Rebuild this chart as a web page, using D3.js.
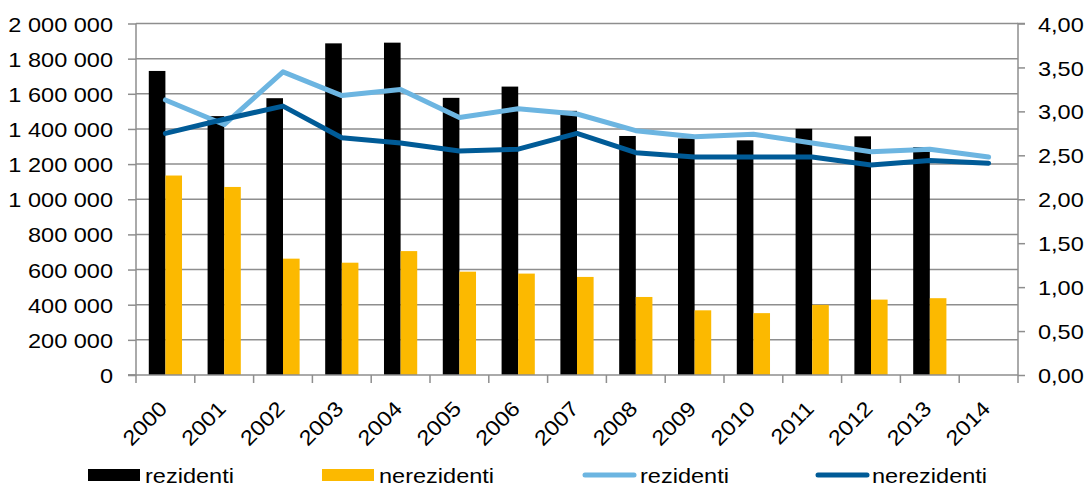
<!DOCTYPE html>
<html>
<head>
<meta charset="utf-8">
<script src="https://cdn.jsdelivr.net/npm/d3@7"></script>
<style>
  html, body { margin: 0; padding: 0; background: #fff; }
  svg { display: block; font-family: "Liberation Sans", Arial, sans-serif; }
</style>
</head>
<body>
<svg id="chart" width="1089" height="487"></svg>
<script>
// ---- data ----
const years = ["2000","2001","2002","2003","2004","2005","2006","2007","2008","2009","2010","2011","2012","2013","2014"];
const barRezidenti   = [1730000,1473000,1575000,1887000,1891000,1577000,1641000,1503000,1360000,1346000,1335000,1401000,1358000,1297000,null];
const barNerezidenti = [1135000,1070000,662000,639000,705000,588000,577000,558000,444000,368000,352000,399000,429000,437000,null];
const lineRezidenti   = [3.13,2.85,3.45,3.18,3.25,2.93,3.03,2.97,2.78,2.71,2.74,2.64,2.54,2.57,2.48];
const lineNerezidenti = [2.75,2.91,3.06,2.70,2.64,2.55,2.57,2.75,2.53,2.48,2.48,2.48,2.39,2.44,2.41];
const leftTicks  = [0,200000,400000,600000,800000,1000000,1200000,1400000,1600000,1800000,2000000];
const rightTicks = [0,0.5,1,1.5,2,2.5,3,3.5,4];
const seriesNames = ["rezidenti","nerezidenti","rezidenti","nerezidenti"];

// ---- styles ----
const colBlack = "#000000", colOrange = "#fcb900", colLight = "#6cb5e1", colDark = "#005b97";
const gridCol = "#8e8e8e";
const FS = 21, STRETCH = 1.12;

const svg = d3.select("#chart");
const pLeft = 136, pRight = 1018, pTop = 23.5, pBottom = 375;

function stretch(sel) {
  sel.each(function () {
    const w = this.getComputedTextLength();
    this.setAttribute("textLength", w * STRETCH);
    this.setAttribute("lengthAdjust", "spacingAndGlyphs");
  });
}

const loc = d3.formatLocale({decimal: ",", thousands: " ", grouping: [3], currency: ["", ""]});
const fmtL = loc.format(",.0f");
const fmtR = loc.format(".2f");

const x = d3.scaleBand().domain(years).range([pLeft, pRight]).padding(0);
const x1 = d3.scaleBand().domain(["r","n"]).range([0, x.bandwidth()]).paddingInner(0).paddingOuter(0.77);
const yL = d3.scaleLinear().domain([0, 2000000]).range([pBottom, pTop]);
const yR = d3.scaleLinear().domain([0, 4]).range([pBottom, pTop]);

// gridlines
svg.append("g").selectAll("line").data(leftTicks.filter(d => d > 0)).join("line")
  .attr("x1", pLeft).attr("x2", pRight)
  .attr("y1", d => yL(d)).attr("y2", d => yL(d))
  .attr("stroke", gridCol).attr("stroke-width", 1.5);

// bars
const barG = svg.append("g");
barG.selectAll("rect.r").data(years.map((y, i) => ({y, v: barRezidenti[i]})).filter(d => d.v != null)).join("rect")
  .attr("class", "r")
  .attr("x", d => x(d.y) + x1("r")).attr("width", x1.bandwidth())
  .attr("y", d => yL(d.v)).attr("height", d => yL(0) - yL(d.v))
  .attr("fill", colBlack);
barG.selectAll("rect.n").data(years.map((y, i) => ({y, v: barNerezidenti[i]})).filter(d => d.v != null)).join("rect")
  .attr("class", "n")
  .attr("x", d => x(d.y) + x1("n")).attr("width", x1.bandwidth())
  .attr("y", d => yL(d.v)).attr("height", d => yL(0) - yL(d.v))
  .attr("fill", colOrange);

// axes
const axL = d3.axisLeft(yL).tickValues(leftTicks).tickFormat(fmtL).tickSize(8).tickPadding(15);
const gL = svg.append("g").attr("transform", `translate(${pLeft},0)`).call(axL);
const axR = d3.axisRight(yR).tickValues(rightTicks).tickFormat(fmtR).tickSize(7).tickPadding(13);
const gR = svg.append("g").attr("transform", `translate(${pRight},0)`).call(axR);
const axB = d3.axisBottom(x).tickSize(8).tickFormat("");
const gB = svg.append("g").attr("transform", `translate(0,${pBottom})`).call(axB);
gB.selectAll(".tick").remove();
gB.selectAll("line.bt").data(years.concat(["end"])).join("line")
  .attr("class", "bt")
  .attr("x1", (d, i) => pLeft + i * x.step()).attr("x2", (d, i) => pLeft + i * x.step())
  .attr("y1", 0).attr("y2", 8).attr("stroke", gridCol).attr("stroke-width", 1.5);

[gL, gR, gB].forEach(g => {
  g.selectAll(".domain").attr("stroke", gridCol).attr("stroke-width", 1.5);
  g.selectAll(".tick line").attr("stroke", gridCol).attr("stroke-width", 1.5);
  g.selectAll("text").attr("font-family", '"Liberation Sans", Arial, sans-serif').attr("font-size", FS).attr("fill", "#000").attr("dy", "0.36em");
  stretch(g.selectAll("text"));
});
gL.select(".domain").attr("d", `M-8,${pBottom}H0V${pTop}`);
gR.select(".domain").attr("d", `M7,${pTop}H0V${pBottom}`);
gB.select(".domain").attr("d", `M${pLeft - 8},0H${pRight}`);

// year labels
const yl = svg.append("g").selectAll("text").data(years).join("text")
  .attr("transform", d => `translate(${x(d) + x.bandwidth() / 2 + 3},${pBottom + 35}) rotate(-45)`)
  .attr("text-anchor", "end")
  .attr("font-size", FS).attr("fill", "#000")
  .text(d => d);
stretch(yl);

// lines
const lineGen = d3.line().x((d, i) => x(years[i]) + x.bandwidth() / 2).y(d => yR(d));
svg.append("path").datum(lineRezidenti).attr("d", lineGen)
  .attr("fill", "none").attr("stroke", colLight).attr("stroke-width", 5).attr("stroke-linejoin", "round").attr("stroke-linecap", "round");
svg.append("path").datum(lineNerezidenti).attr("d", lineGen)
  .attr("fill", "none").attr("stroke", colDark).attr("stroke-width", 5).attr("stroke-linejoin", "round").attr("stroke-linecap", "round");

// legend
const legend = [
  {type: "rect", color: colBlack, x0: 88, x1: 140, tx: 145},
  {type: "rect", color: colOrange, x0: 322, x1: 374, tx: 379},
  {type: "line", color: colLight, x0: 583, x1: 636, tx: 640},
  {type: "line", color: colDark, x0: 816, x1: 869, tx: 872}
];
const ly = 475;
const lg = svg.append("g");
legend.forEach((l, i) => {
  if (l.type === "rect") {
    lg.append("rect").attr("x", l.x0).attr("y", ly - 6).attr("width", l.x1 - l.x0).attr("height", 12).attr("fill", l.color);
  } else {
    lg.append("line").attr("x1", l.x0 + 2).attr("x2", l.x1 - 2).attr("y1", ly).attr("y2", ly)
      .attr("stroke", l.color).attr("stroke-width", 5).attr("stroke-linecap", "round");
  }
  const t = lg.append("text").attr("x", l.tx).attr("y", ly).attr("dy", "0.36em")
    .attr("font-size", FS).attr("fill", "#000").text(seriesNames[i]);
  stretch(t);
});
</script>
</body>
</html>
